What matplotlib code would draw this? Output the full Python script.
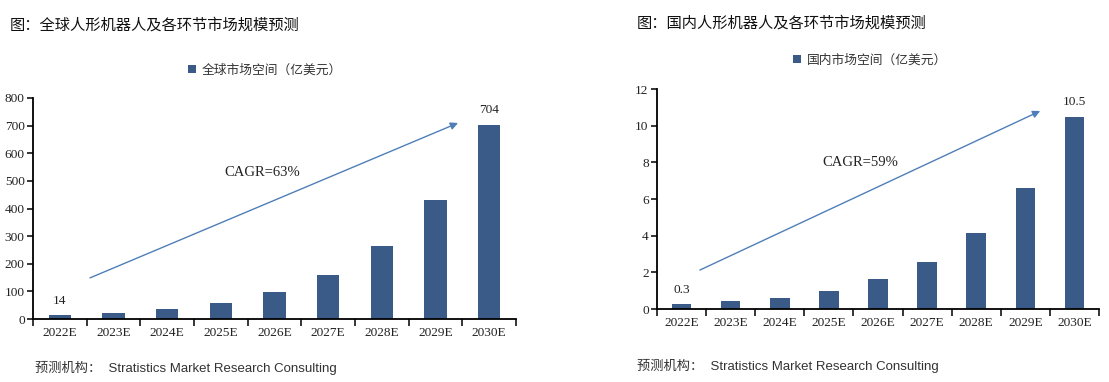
import matplotlib
matplotlib.use("Agg")
import matplotlib.pyplot as plt
from matplotlib.ticker import FixedLocator, NullFormatter

# ---- data ----
years = ["2022E", "2023E", "2024E", "2025E", "2026E", "2027E", "2028E", "2029E", "2030E"]
global_values = [14, 23, 37, 59, 99, 160, 265, 432, 704]
china_values = [0.27, 0.42, 0.62, 1.0, 1.65, 2.58, 4.16, 6.61, 10.5]
global_yticks = [0, 100, 200, 300, 400, 500, 600, 700, 800]
china_yticks = [0, 2, 4, 6, 8, 10, 12]
global_title = "图：全球人形机器人及各环节市场规模预测"
china_title = "图：国内人形机器人及各环节市场规模预测"
global_legend = "全球市场空间（亿美元）"
china_legend = "国内市场空间（亿美元）"
global_cagr = "CAGR=63%"
china_cagr = "CAGR=59%"
source = "预测机构：  Stratistics Market Research Consulting"

BAR = "#3A5B88"
ARROW = "#4F7FB8"
SERIF = ["Liberation Serif", "DejaVu Serif"]
CJK = ["Noto Sans CJK SC", "DejaVu Sans"]
SANS = ["Liberation Sans", "Noto Sans CJK SC"]

W, H = 1109, 382
fig = plt.figure(figsize=(W / 100, H / 100), dpi=100)


def px_axes(x0, x1, ytop, ybot):
    return fig.add_axes([x0 / W, 1 - ybot / H, (x1 - x0) / W, (ybot - ytop) / H])


def draw(ax, values, yticks, label, cagr, fmt, bw, arrow_start, arrow_end, cagr_pos,
         leg_pos):
    x = list(range(len(values)))
    ax.bar(x, values, width=bw, color=BAR, label=label, zorder=2)
    ax.set_xlim(-0.5, len(values) - 0.5)
    ax.set_ylim(yticks[0], yticks[-1])
    ax.set_yticks(yticks)
    ax.set_yticklabels([str(t) for t in yticks], fontfamily=SERIF, fontsize=9.6, color="#222222")
    ax.set_xticks(x)
    ax.set_xticklabels(years, fontfamily=SERIF, fontsize=9.6, color="#222222")
    ax.xaxis.set_minor_locator(FixedLocator([i - 0.5 for i in range(len(values) + 1)]))
    ax.xaxis.set_minor_formatter(NullFormatter())
    ax.tick_params(axis="x", which="major", length=0, pad=6)
    ax.tick_params(axis="x", which="minor", length=5, width=1.1, direction="out", color="black")
    ax.tick_params(axis="y", which="major", length=4, width=1.1, direction="out", color="black", pad=2)
    for s in ["top", "right"]:
        ax.spines[s].set_visible(False)
    for s in ["left", "bottom"]:
        ax.spines[s].set_linewidth(1.3)
        ax.spines[s].set_color("black")
    for i in (0, len(values) - 1):
        ax.annotate(fmt.format(values[i]), (x[i], values[i]), xytext=(0, 6),
                    textcoords="offset points", ha="center", va="bottom",
                    fontfamily=SERIF, fontsize=9.6, color="#222222")
    ax.annotate("", xy=arrow_end, xytext=arrow_start, xycoords="axes fraction",
                textcoords="axes fraction",
                arrowprops=dict(arrowstyle="-|>", color=ARROW, lw=1.0, mutation_scale=11,
                                shrinkA=0, shrinkB=0))
    ax.text(cagr_pos[0], cagr_pos[1], cagr, transform=ax.transAxes, ha="center", va="center",
            fontfamily=SERIF, fontsize=10.5, color="#222222")
    leg = ax.legend(loc="center", bbox_to_anchor=leg_pos, bbox_transform=fig.transFigure,
                    frameon=False, handlelength=0.65, handleheight=0.65, handletextpad=0.4,
                    prop={"family": CJK, "size": 9.2})
    for t in leg.get_texts():
        t.set_color("#333333")


ax1 = px_axes(33, 516, 98, 319)
draw(ax1, global_values, global_yticks, global_legend, global_cagr, "{:.0f}", 0.42,
     (0.118, 0.186), (0.880, 0.887), (0.474, 0.661), (265 / W, 1 - 70 / H))

ax2 = px_axes(657, 1099, 89, 309)
draw(ax2, china_values, china_yticks, china_legend, china_cagr, "{:.1f}", 0.40,
     (0.097, 0.177), (0.867, 0.90), (0.459, 0.668), (870 / W, 1 - 60 / H))

fig.text(10 / W, 1 - 25 / H, global_title, fontfamily=CJK, fontsize=11, va="center",
         ha="left", color="#111111")
fig.text(637 / W, 1 - 23 / H, china_title, fontfamily=CJK, fontsize=11, va="center",
         ha="left", color="#111111")
fig.text(35 / W, 1 - 368 / H, source, fontfamily=SANS, fontsize=9.5, va="center",
         ha="left", color="#333333")
fig.text(637 / W, 1 - 366 / H, source, fontfamily=SANS, fontsize=9.5, va="center",
         ha="left", color="#333333")

fig.savefig("out.png", dpi=100, facecolor="white")
